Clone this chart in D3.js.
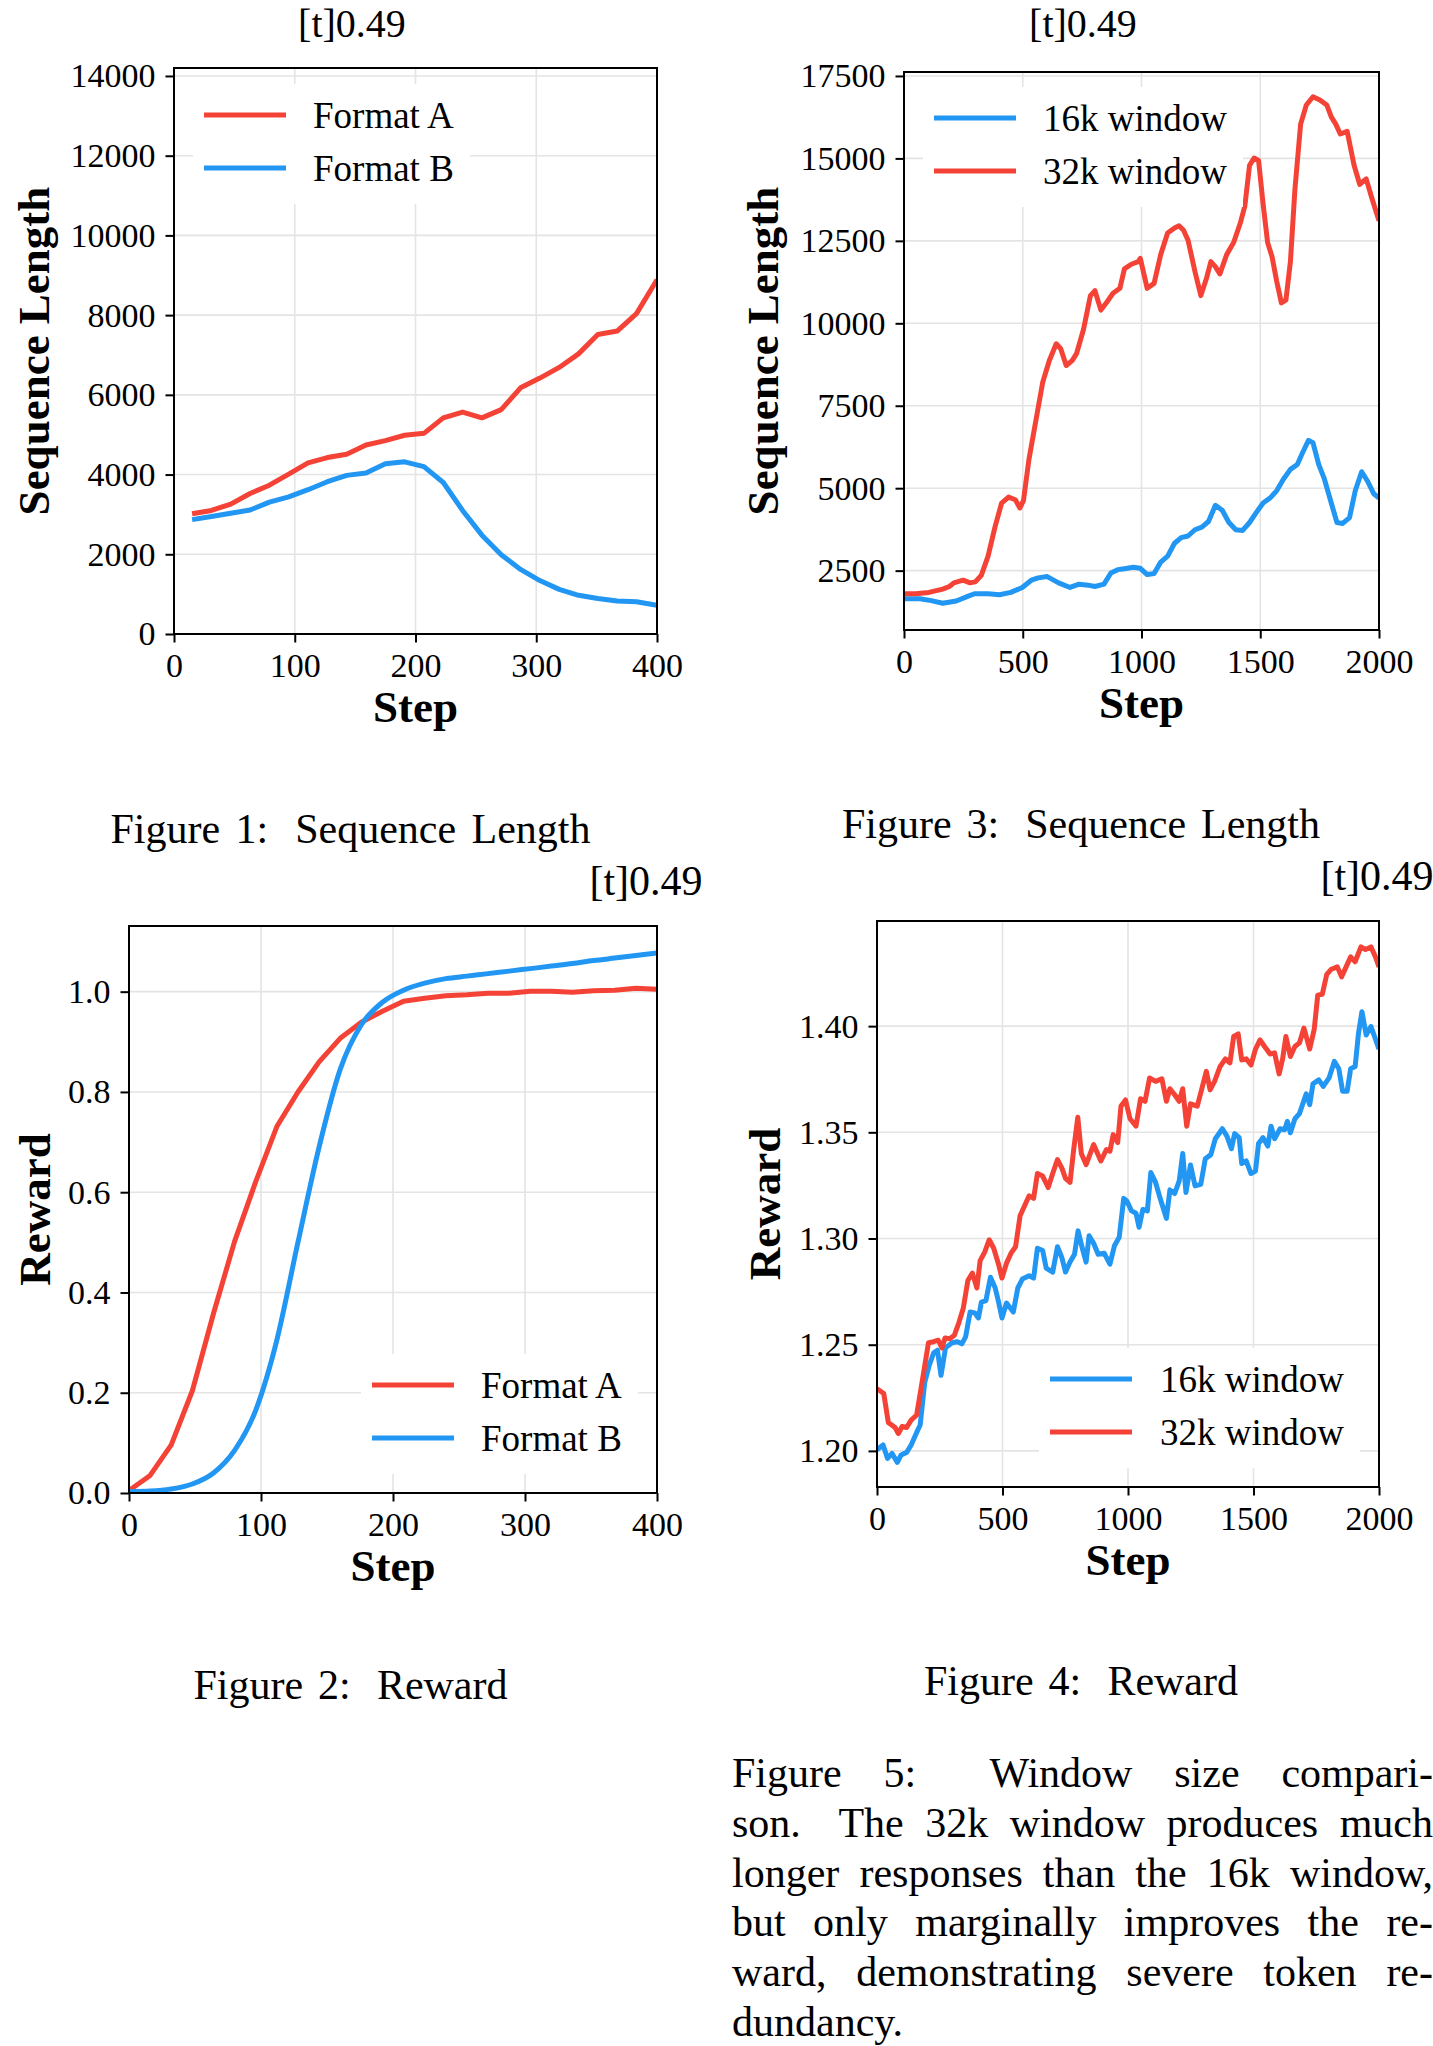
<!DOCTYPE html>
<html><head><meta charset="utf-8">
<script src="https://cdn.jsdelivr.net/npm/d3@7"></script>
<style>
body{margin:0;background:#fff}
svg{display:block}
text{font-family:"Liberation Serif","Times New Roman",serif;fill:#000}
</style>
</head><body>
<svg id="c" width="1433" height="2046"></svg>
<script>
// ---------------- DATA ----------------
// Figure 1: Sequence Length (Format A / Format B)
const fig1Steps   = [15,31,47,63,79,95,111,127,143,159,175,191,207,223,239,255,271,287,303,319,335,351,367,383,400];
const fig1FormatA = [3016,3100,3259,3526,3733,4013,4292,4426,4511,4742,4852,4986,5034,5423,5569,5423,5630,6177,6420,6688,7028,7515,7600,8038,8889];
const fig1FormatB = [2870,2950,3030,3110,3310,3440,3620,3820,3980,4040,4270,4320,4200,3800,3100,2480,1990,1620,1340,1120,970,890,830,810,720];

// Figure 2: Reward (Format A / Format B)
const fig2Steps   = [0,16,32,48,64,80,96,112,128,144,160,176,192,208,224,240,256,272,288,304,320,336,352,368,384,400];
const fig2FormatA = [0.005,0.035,0.096,0.204,0.358,0.502,0.621,0.731,0.800,0.860,0.907,0.939,0.961,0.981,0.987,0.992,0.994,0.997,0.997,1.001,1.001,0.999,1.002,1.003,1.007,1.005];
const fig2FormatB = [0.003,0.004,0.008,0.018,0.040,0.085,0.165,0.305,0.500,0.690,0.845,0.934,0.979,1.003,1.017,1.026,1.031,1.036,1.041,1.046,1.051,1.056,1.062,1.067,1.072,1.077];

// Figure 3: Sequence Length (16k / 32k window)
const fig3Steps16k = [0,67,115,163,220,268,297,354,402,450,498,536,565,603,651,699,737,775,804,842,871,900,928,966,995,1024,1053,1081,1110,1139,1167,1196,1225,1254,1282,1311,1340,1368,1397,1426,1455,1483,1512,1541,1569,1598,1627,1656,1679,1703,1722,1746,1770,1799,1823,1847,1876,1900,1927,1952,1977,2000];
const fig3Len16k   = [1650,1650,1590,1510,1580,1720,1800,1800,1770,1840,1990,2210,2280,2320,2130,1990,2090,2060,2020,2090,2430,2530,2560,2600,2570,2380,2410,2760,2940,3330,3500,3550,3740,3820,3990,4480,4330,3960,3740,3720,3960,4260,4550,4700,4920,5280,5570,5720,6090,6450,6380,5720,5280,4550,3960,3930,4110,4920,5500,5210,4840,4700];
const fig3Steps32k = [0,48,105,163,191,210,249,278,300,325,354,383,411,440,469,488,503,526,555,584,612,641,660,683,708,727,756,785,804,829,852,880,909,928,957,986,995,1024,1053,1081,1110,1139,1158,1177,1196,1225,1250,1273,1292,1311,1330,1359,1388,1416,1435,1455,1474,1493,1512,1531,1550,1569,1589,1608,1627,1646,1670,1694,1722,1751,1780,1799,1818,1837,1866,1895,1919,1946,1971,2000];
const fig3Len32k   = [1800,1800,1840,1940,2020,2130,2210,2130,2160,2350,2940,3820,4550,4730,4650,4400,4620,5870,7040,8210,8870,9380,9230,8720,8870,9090,9820,10840,10990,10400,10620,10910,11060,11650,11790,11870,11970,11060,11210,12090,12740,12890,12960,12820,12520,11570,10840,11350,11870,11720,11500,12090,12450,13040,13550,14790,15010,14940,13620,12450,12010,11280,10620,10700,11870,14060,16040,16620,16870,16770,16620,16260,16040,15740,15820,14790,14210,14380,13770,13110];

// Figure 4: Reward (16k / 32k window)
const fig4Steps16k = [0,24,42,60,81,96,118,136,158,172,190,208,226,241,255,273,299,320,338,353,371,389,404,416,434,452,471,483,498,516,543,561,579,606,624,639,660,674,700,719,737,751,769,787,801,818,833,845,863,881,905,928,946,965,983,995,1014,1032,1044,1059,1077,1091,1110,1128,1153,1167,1186,1204,1218,1231,1249,1267,1290,1308,1330,1348,1376,1394,1412,1425,1443,1453,1471,1490,1508,1520,1538,1557,1570,1584,1606,1624,1635,1647,1665,1683,1710,1724,1737,1760,1778,1801,1822,1840,1855,1873,1887,1905,1918,1932,1949,1968,1986,2000];
const fig4Rew16k   = [1.2005,1.2028,1.1965,1.1988,1.1946,1.1981,1.1993,1.2028,1.2087,1.2122,1.2321,1.2403,1.2462,1.2474,1.2356,1.2485,1.2509,1.2514,1.2504,1.2537,1.2654,1.2650,1.2626,1.2701,1.2708,1.2818,1.2767,1.2708,1.2626,1.2696,1.2654,1.2767,1.2809,1.2825,1.2814,1.2954,1.2943,1.2861,1.2842,1.2961,1.2908,1.2842,1.2889,1.2926,1.3036,1.2954,1.2889,1.3013,1.2978,1.2926,1.2931,1.2879,1.2966,1.3006,1.3189,1.3177,1.3130,1.3119,1.3053,1.3137,1.3130,1.3311,1.3264,1.3189,1.3095,1.3229,1.3212,1.3271,1.3400,1.3217,1.3346,1.3248,1.3255,1.3376,1.3395,1.3470,1.3517,1.3482,1.3423,1.3494,1.3475,1.3353,1.3365,1.3306,1.3318,1.3447,1.3475,1.3435,1.3529,1.3470,1.3517,1.3512,1.3552,1.3498,1.3564,1.3588,1.3681,1.3630,1.3728,1.3747,1.3716,1.3756,1.3834,1.3799,1.3693,1.3693,1.3799,1.3810,1.3963,1.4068,1.3958,1.3998,1.3939,1.3892];
const fig4Steps32k = [0,27,45,72,85,100,118,136,158,176,205,226,244,259,271,290,308,326,344,362,380,398,411,429,447,465,483,498,516,534,552,570,588,606,624,639,660,682,700,719,737,751,769,784,800,814,833,863,892,914,928,941,959,972,990,1008,1032,1050,1068,1086,1110,1135,1153,1167,1186,1204,1218,1234,1249,1276,1294,1312,1327,1345,1367,1388,1406,1421,1439,1453,1471,1490,1508,1526,1544,1566,1584,1602,1616,1629,1647,1665,1683,1701,1724,1742,1756,1774,1792,1810,1834,1851,1869,1887,1905,1928,1946,1968,1986,2000];
const fig4Rew32k   = [1.2293,1.2270,1.2134,1.2110,1.2082,1.2115,1.2110,1.2145,1.2169,1.2298,1.2509,1.2514,1.2521,1.2485,1.2532,1.2528,1.2544,1.2603,1.2673,1.2802,1.2837,1.2767,1.2896,1.2936,1.2994,1.2954,1.2884,1.2814,1.2884,1.2931,1.2961,1.3107,1.3154,1.3201,1.3189,1.3306,1.3294,1.3240,1.3306,1.3372,1.3330,1.3283,1.3264,1.3423,1.3571,1.3400,1.3348,1.3442,1.3365,1.3419,1.3411,1.3489,1.3452,1.3623,1.3653,1.3564,1.3529,1.3658,1.3646,1.3756,1.3740,1.3752,1.3646,1.3705,1.3677,1.3646,1.3705,1.3529,1.3634,1.3623,1.3705,1.3787,1.3700,1.3740,1.3810,1.3846,1.3827,1.3951,1.3963,1.3841,1.3846,1.3817,1.3892,1.3935,1.3904,1.3869,1.3874,1.3775,1.3846,1.3951,1.3857,1.3904,1.3921,1.3991,1.3892,1.3986,1.4146,1.4150,1.4244,1.4268,1.4279,1.4232,1.4279,1.4326,1.4303,1.4373,1.4361,1.4373,1.4326,1.4279];

// Tick values
const stepTicks400  = [0,100,200,300,400];
const stepTicks2000 = [0,500,1000,1500,2000];
const seqTicksA = [0,2000,4000,6000,8000,10000,12000,14000];
const seqTicksB = [2500,5000,7500,10000,12500,15000,17500];
const rewTicksA = [0,0.2,0.4,0.6,0.8,1.0];
const rewTicksB = [1.20,1.25,1.30,1.35,1.40];

// Text
const captions = ["Figure 1: Sequence Length","Figure 2: Reward","Figure 3: Sequence Length","Figure 4: Reward"];
const subLabel = "[t]0.49";
const fig5Lines = [
  "Figure 5: Window size compari-",
  "son. The 32k window produces much",
  "longer responses than the 16k window,",
  "but only marginally improves the re-",
  "ward, demonstrating severe token re-",
  "dundancy."
];

// ---------------- DRAW ----------------
const RED = "#F44336", BLUE = "#2196F3";
const svg = d3.select("#c");
svg.append("rect").attr("width",1433).attr("height",2046).attr("fill","#fff");
const defs = svg.append("defs");

function chart(cfg, idx){
  const x = d3.scaleLinear().domain(cfg.xDomain).range([cfg.left, cfg.right]);
  const y = d3.scaleLinear().domain(cfg.yDomain).range([cfg.bottom, cfg.top]);
  const g = svg.append("g");
  const W = cfg.right - cfg.left, H = cfg.bottom - cfg.top;

  // grid
  g.append("g").selectAll("line").data(cfg.yTicks).join("line")
    .attr("x1",cfg.left).attr("x2",cfg.right)
    .attr("y1",d=>y(d)).attr("y2",d=>y(d))
    .attr("stroke","#e4e4e4").attr("stroke-width",1.6);
  g.append("g").selectAll("line").data(cfg.xTicks).join("line")
    .attr("y1",cfg.top).attr("y2",cfg.bottom)
    .attr("x1",d=>x(d)).attr("x2",d=>x(d))
    .attr("stroke","#e4e4e4").attr("stroke-width",1.6);

  // clip
  const cid = "clip"+idx;
  defs.append("clipPath").attr("id",cid).append("rect")
    .attr("x",cfg.left).attr("y",cfg.top).attr("width",W).attr("height",H);

  // lines
  const lg = g.append("g").attr("clip-path",`url(#${cid})`);
  cfg.series.forEach(s=>{
    const line = d3.line().x(d=>x(d[0])).y(d=>y(d[1])).curve(s.curve || d3.curveLinear);
    lg.append("path").datum(d3.zip(s.x, s.y))
      .attr("d", line).attr("fill","none")
      .attr("stroke", s.color).attr("stroke-width", 5)
      .attr("stroke-linejoin","round").attr("stroke-linecap","butt");
  });

  // axes
  const ax = g.append("g").attr("transform",`translate(0,${cfg.bottom})`)
    .call(d3.axisBottom(x).tickValues(cfg.xTicks).tickSize(8.5).tickPadding(10).tickFormat(d3.format("d")));
  const ay = g.append("g").attr("transform",`translate(${cfg.left},0)`)
    .call(d3.axisLeft(y).tickValues(cfg.yTicks).tickSize(8.5).tickPadding(10).tickFormat(cfg.yFmt));
  [ax, ay].forEach(a=>{
    a.select(".domain").remove();
    a.selectAll(".tick line").attr("stroke","#000").attr("stroke-width",2);
    a.selectAll(".tick text").attr("font-size",34).attr("font-family","'Liberation Serif',serif").attr("fill","#000");
  });

  // spines
  g.append("rect").attr("x",cfg.left).attr("y",cfg.top).attr("width",W).attr("height",H)
    .attr("fill","none").attr("stroke","#000").attr("stroke-width",2);

  // legend
  const L = cfg.legend, rowGap = 53;
  const leg = g.append("g");
  const bg = leg.append("rect").attr("fill","#fff");
  let maxW = 0;
  cfg.legendOrder.forEach((si,i)=>{
    const s = cfg.series[si];
    const yy = L.y + i*rowGap;
    leg.append("line").attr("x1",L.x).attr("x2",L.x+82).attr("y1",yy).attr("y2",yy)
      .attr("stroke",s.color).attr("stroke-width",5);
    const t = leg.append("text").attr("x",L.textX).attr("y",yy+12.5).attr("font-size",37).text(s.label);
    maxW = Math.max(maxW, t.node().getComputedTextLength());
  });
  bg.attr("x",L.x-11).attr("y",L.y-31).attr("width",(L.textX+maxW+16)-(L.x-11))
    .attr("height",rowGap*(cfg.legendOrder.length-1)+31+36);
  leg.raise();

  // axis labels
  g.append("text").attr("x",(cfg.left+cfg.right)/2).attr("y",cfg.bottom+88)
    .attr("text-anchor","middle").attr("font-size",45).attr("font-weight","bold").text("Step");
  g.append("text").attr("transform",`translate(${cfg.ylabelX},${(cfg.top+cfg.bottom)/2}) rotate(-90)`)
    .attr("text-anchor","middle").attr("font-size",45).attr("font-weight","bold").text(cfg.ylabel);
}

const charts = [
  {left:174,right:657,top:68,bottom:634,xDomain:[0,400],yDomain:[0,14200],
   xTicks:stepTicks400,yTicks:seqTicksA,yFmt:d3.format("d"),
   series:[{x:fig1Steps,y:fig1FormatA,color:RED,label:"Format A"},{x:fig1Steps,y:fig1FormatB,color:BLUE,label:"Format B"}],
   legendOrder:[0,1],legend:{x:204,y:115,textX:313},ylabel:"Sequence Length",ylabelX:49},
  {left:904,right:1379,top:72,bottom:630,xDomain:[0,2000],yDomain:[700,17620],
   xTicks:stepTicks2000,yTicks:seqTicksB,yFmt:d3.format("d"),
   series:[{x:fig3Steps16k,y:fig3Len16k,color:BLUE,label:"16k window"},{x:fig3Steps32k,y:fig3Len32k,color:RED,label:"32k window"}],
   legendOrder:[0,1],legend:{x:934,y:118,textX:1043},ylabel:"Sequence Length",ylabelX:778},
  {left:129,right:657,top:926,bottom:1493,xDomain:[0,400],yDomain:[0,1.131],
   xTicks:stepTicks400,yTicks:rewTicksA,yFmt:d3.format(".1f"),
   series:[{x:fig2Steps,y:fig2FormatA,color:RED,label:"Format A"},{x:fig2Steps,y:fig2FormatB,color:BLUE,label:"Format B",curve:d3.curveMonotoneX}],
   legendOrder:[0,1],legend:{x:372,y:1385,textX:481},ylabel:"Reward",ylabelX:50},
  {left:877,right:1379,top:921,bottom:1487,xDomain:[0,2000],yDomain:[1.183,1.4495],
   xTicks:stepTicks2000,yTicks:rewTicksB,yFmt:d3.format(".2f"),
   series:[{x:fig4Steps16k,y:fig4Rew16k,color:BLUE,label:"16k window"},{x:fig4Steps32k,y:fig4Rew32k,color:RED,label:"32k window"}],
   legendOrder:[0,1],legend:{x:1050,y:1379,textX:1160},ylabel:"Reward",ylabelX:780}
];
charts.forEach((c,i)=>chart(c,i));

// ---------- LaTeX-ish text ----------
const FS = 42;
function measure(str){
  const t = svg.append("text").attr("font-size",FS).attr("x",-1000).attr("y",-1000).text(str);
  const w = t.node().getComputedTextLength(); t.remove(); return w;
}
// place words from x0 with total width target (justify); larger gaps after ':' '.'
function setLine(str, x0, baseline, target){
  const words = str.split(" ");
  const ws = words.map(measure);
  const sum = d3.sum(ws);
  const weights = words.slice(0,-1).map(w=>/[:.]$/.test(w)?1.75:1);
  const wsum = d3.sum(weights);
  const unit = target==null ? 0.25*FS : (target - sum)/wsum;
  const t = svg.append("text").attr("font-size",FS).attr("y",baseline);
  let x = x0;
  words.forEach((w,i)=>{
    t.append("tspan").attr("x",x).text(w);
    x += ws[i] + (i<weights.length ? weights[i]*unit : 0);
  });
}
function centered(str, cx, baseline, target){
  setLine(str, cx - target/2, baseline, target);
}
centered(captions[0], 350.5, 843, 480);
centered(captions[1], 350.5, 1699, 314);
centered(captions[2], 1081, 838, 478);
centered(captions[3], 1081, 1695, 314);

[[352,37,40],[1083,37,40],[646,895,42],[1377,890,42]].forEach(p=>{
  svg.append("text").attr("x",p[0]).attr("y",p[1]).attr("text-anchor","middle")
    .attr("font-size",p[2]).text(subLabel);
});

fig5Lines.forEach((ln,i)=>{
  const last = i===fig5Lines.length-1;
  setLine(ln, 732, 1787 + i*49.8, last ? null : 701);
});
</script>
</body></html>
